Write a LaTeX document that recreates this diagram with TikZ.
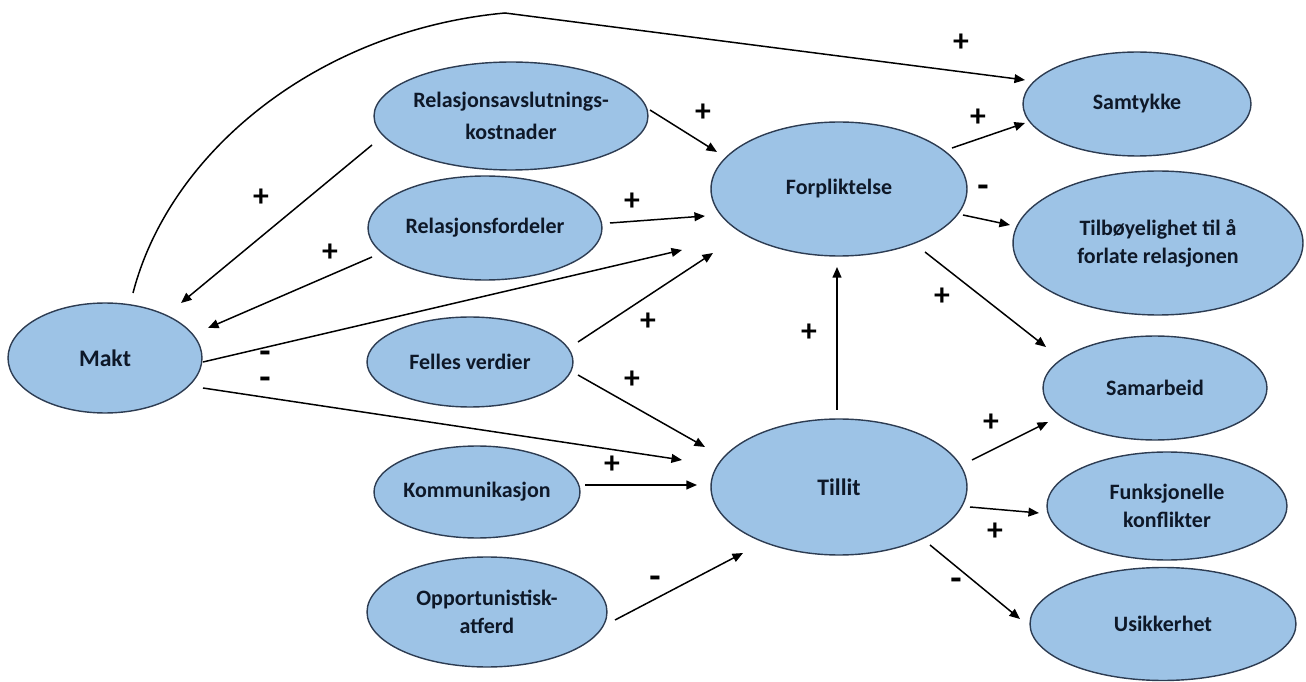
\documentclass[tikz,border=0pt]{standalone}
\usepackage{fontspec}
\setmainfont{Carlito}
\usetikzlibrary{shapes.geometric,arrows.meta,calc}
\definecolor{fillblue}{RGB}{157,195,230}
\definecolor{edgeblue}{RGB}{45,60,82}
\definecolor{txtblue}{RGB}{14,24,40}
\newcommand\zb[1]{\makebox[0pt]{#1}}
\begin{document}
\begin{tikzpicture}[x=0.02cm,y=-0.02cm,
  ell/.style={ellipse,draw=edgeblue,fill=fillblue,line width=0.8pt,inner sep=0pt,
    align=center,text=txtblue,font=\bfseries\fontsize{12.5}{16}\selectfont},
  big/.style={font=\bfseries\fontsize{13.5}{16}\selectfont},
  arr/.style={-{Triangle[length=6pt,width=5pt]},line width=0.85pt,black},
  pl/.style={font=\bfseries\fontsize{18}{18}\selectfont,inner sep=0pt,text=black},
  mi/.style={font=\bfseries\fontsize{21}{21}\selectfont,inner sep=0pt,text=black,
    text height=1ex,text depth=0pt}]
\useasboundingbox (0,0) rectangle (1306,682);

% nodes
\node[ell,big,minimum width=3.88cm,minimum height=2.2cm] (mk) at (105,358) {\zb{Makt}};
\node[ell,minimum width=5.48cm,minimum height=2.16cm,font=\bfseries\fontsize{12.5}{18}\selectfont] (rak) at (511,116) {\zb{Relasjonsavslutnings-}\\\zb{kostnader}};
\node[ell,minimum width=4.68cm,minimum height=2.08cm] (rf) at (485,228) {\zb{Relasjonsfordeler}};
\node[ell,minimum width=4.12cm,minimum height=1.8cm] (fv) at (470,362) {\zb{Felles verdier}};
\node[ell,minimum width=4.12cm,minimum height=1.84cm] (ko) at (477,492) {\zb{Kommunikasjon}};
\node[ell,minimum width=4.8cm,minimum height=2.2cm] (op) at (487,612) {\zb{Opportunistisk-}\\\zb{atferd}};
\node[ell,minimum width=5.12cm,minimum height=2.68cm] (fo) at (839,189) {\zb{Forpliktelse}};
\node[ell,big,minimum width=5.12cm,minimum height=2.72cm] (ti) at (839,487) {\zb{Tillit}};
\node[ell,minimum width=4.56cm,minimum height=2.08cm] (sa) at (1137,104) {\zb{Samtykke}};
\node[ell,minimum width=5.8cm,minimum height=2.88cm] (tb) at (1158,243) {\zb{Tilbøyelighet til å}\\\zb{forlate relasjonen}};
\node[ell,minimum width=4.48cm,minimum height=2.08cm] (sb) at (1155,388) {\zb{Samarbeid}};
\node[ell,minimum width=4.8cm,minimum height=2.16cm] (fk) at (1167,506) {\zb{Funksjonelle}\\\zb{konflikter}};
\node[ell,minimum width=5.32cm,minimum height=2.26cm] (us) at (1163,624) {\zb{Usikkerhet}};

% connectors
\coordinate (peak) at (505,13);
\draw[arr] ($(mk)+(28,-65)$) .. controls (170,150) and (320,30) .. (peak) -- ($(sa)+(-112,-24)$);
\draw[arr] ($(rak)+(-139,29)$) -- ($(mk)+(76,-55)$);
\draw[arr] ($(rf)+(-113,29)$) -- ($(mk)+(103,-30)$);
\draw[arr] ($(mk)+(98,4)$) -- ($(fo)+(-157,61)$);
\draw[arr] ($(mk)+(98,30)$) -- ($(ti)+(-157,-27)$);
\draw[arr] ($(rak)+(139,-6)$) -- ($(fo)+(-122,-37)$);
\draw[arr] ($(rf)+(125,-5)$) -- ($(fo)+(-134,27)$);
\draw[arr] ($(fv)+(108,-20)$) -- ($(fo)+(-126,64)$);
\draw[arr] ($(fv)+(108,13)$) -- ($(ti)+(-134,-40)$);
\draw[arr] ($(ko)+(108,-7)$) -- ($(ti)+(-142,-2)$);
\draw[arr] ($(op)+(128,8)$) -- ($(ti)+(-96,66)$);
\draw[arr] ($(ti)+(-2,-77)$) -- ($(fo)+(-2,78)$);
\draw[arr] ($(fo)+(113,-41)$) -- ($(sa)+(-112,19)$);
\draw[arr] ($(fo)+(124,26)$) -- ($(tb)+(-148,-18)$);
\draw[arr] ($(fo)+(86,63)$) -- ($(sb)+(-109,-41)$);
\draw[arr] ($(ti)+(133,-27)$) -- ($(sb)+(-107,34)$);
\draw[arr] ($(ti)+(131,20)$) -- ($(fk)+(-128,7)$);
\draw[arr] ($(ti)+(91,58)$) -- ($(us)+(-143,-5)$);

% signs
\node[pl] (s1) at (261,198) {+};
\node[pl] (s2) at (330,253) {+};
\node[mi] (s3) at (265,359) {-};
\node[mi] (s4) at (265,385) {-};
\node[pl] (s5) at (703,113) {+};
\node[pl] (s6) at (632,202) {+};
\node[pl] (s7) at (648,322) {+};
\node[pl] (s8) at (632,380) {+};
\node[pl] (s9) at (612,465) {+};
\node[mi] (s10) at (655,584) {-};
\node[pl] (s11) at (809,333) {+};
\node[pl] (s12) at (978,118) {+};
\node[mi] (s13) at (983,193) {-};
\node[pl] (s14) at (942,297) {+};
\node[pl] (s15) at (991,423) {+};
\node[pl] (s16) at (995,532) {+};
\node[mi] (s17) at (956,586) {-};
\node[pl] (s18) at (961,43) {+};
\end{tikzpicture}
\end{document}
